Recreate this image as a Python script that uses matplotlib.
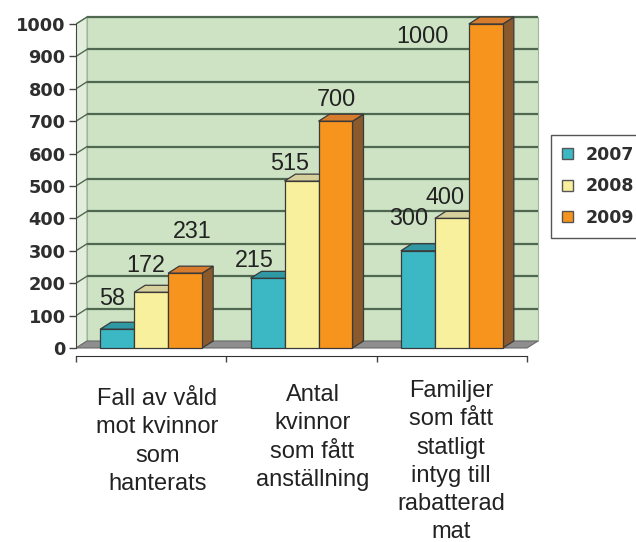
import matplotlib
matplotlib.use("Agg")
import matplotlib.pyplot as plt
from matplotlib.patches import Polygon, Patch

# ---------------- data ----------------
categories = [
    "Fall av våld\nmot kvinnor\nsom\nhanterats",
    "Antal\nkvinnor\nsom fått\nanställning",
    "Familjer\nsom fått\nstatligt\nintyg till\nrabatterad\nmat",
]
years = ["2007", "2008", "2009"]
v2007 = [58, 215, 300]
v2008 = [172, 515, 400]
v2009 = [231, 700, 1000]
yticks = list(range(0, 1001, 100))

# ---------------- styles / layout ----------------
series = [v2007, v2008, v2009]
front_col = ["#3cb8c5", "#f8f09c", "#f7941e"]
top_col = ["#2f98a3", "#d6d09c", "#d77c2c"]
side_col = ["#247a84", "#b9b27c", "#8a5a2c"]
edge = "#3a3a3a"
wall_col = "#cde3c4"
sidewall_col = "#e2eedc"
floor_col = "#8e8e8e"
grid_col = "#50684f"

# label offsets in pixels (x, baseline y) relative to bar front-top centre
lab_off = [
    [(-5, 24), (-13, 11), (-9, 26)],
    [(-5, 20), (-12, 11), (-7, 14)],
    [(7, 35), (1, 15), (-63, -19)],
]
# category label: x offset and first-baseline offset (pixels) from floor centre
cat_off = [(6, -57), (11, -53), (-1, -49)]
line_step = 28.3

W, H = 636, 542
fig = plt.figure(figsize=(W / 100, H / 100), dpi=100)

x0_px, x3_px = 76, 527
y0_px, y1000_px = 348, 24
axl, axr, axt, axb = 76, 560, 8, 356
ppx = (x3_px - x0_px) / 3.0
ppy = (y0_px - y1000_px) / 1000.0

ax = fig.add_axes([axl / W, 1 - axb / H, (axr - axl) / W, (axb - axt) / H])
ax.set_xlim(0, (axr - x0_px) / ppx)
ax.set_ylim(-(axb - y0_px) / ppy, (y0_px - axt) / ppy)
ax.patch.set_visible(False)

dx = 11 / ppx
dy = 7 / ppy
ncat = len(categories)
ymax = yticks[-1]

# walls and floor
ax.add_patch(Polygon([(dx, dy), (ncat + dx, dy), (ncat + dx, ymax + dy), (dx, ymax + dy)],
                     closed=True, facecolor=wall_col, edgecolor="#9fb59a", lw=0.8, zorder=1))
ax.add_patch(Polygon([(0, 0), (dx, dy), (dx, ymax + dy), (0, ymax)],
                     closed=True, facecolor=sidewall_col, edgecolor="#9fb59a", lw=0.8, zorder=1))
ax.add_patch(Polygon([(0, 0), (ncat, 0), (ncat + dx, dy), (dx, dy)],
                     closed=True, facecolor=floor_col, edgecolor="#6a6a6a", lw=0.8, zorder=2))
for t in yticks[1:]:
    ax.plot([dx, ncat + dx], [t + dy, t + dy], color=grid_col, lw=1.6, zorder=3,
            solid_capstyle="butt")
    ax.plot([0, dx], [t, t + dy], color=grid_col, lw=1.0, zorder=3)

# bars
bw = 34 / ppx
z = 10
for i in range(ncat):
    for j, vals in enumerate(series):
        v = vals[i]
        xl = i + 0.5 - 1.5 * bw + j * bw
        xr = xl + bw
        ax.add_patch(Polygon([(xr, 0), (xr + dx, dy), (xr + dx, v + dy), (xr, v)], closed=True,
                             facecolor=side_col[j], edgecolor=edge, lw=0.9, zorder=z))
        ax.add_patch(Polygon([(xl, v), (xr, v), (xr + dx, v + dy), (xl + dx, v + dy)], closed=True,
                             facecolor=top_col[j], edgecolor=edge, lw=0.9, zorder=z + 1))
        ax.add_patch(Polygon([(xl, 0), (xr, 0), (xr, v), (xl, v)], closed=True,
                             facecolor=front_col[j], edgecolor=edge, lw=0.9, zorder=z + 2))
        ox, oy = lab_off[j][i]
        ax.annotate(str(v), xy=((xl + xr) / 2, v), xytext=(ox, oy), textcoords="offset pixels",
                    ha="center", va="baseline", fontsize=16.8, family="Liberation Sans",
                    color="#222222", zorder=50)
        z += 3

# category labels (one text per line, fixed line pitch)
for i, lab in enumerate(categories):
    ox, oy = cat_off[i]
    for k, line in enumerate(lab.split("\n")):
        ax.annotate(line, xy=(i + 0.5, 0), xytext=(ox, oy - k * line_step),
                    textcoords="offset pixels", ha="center", va="baseline", fontsize=17,
                    family="Liberation Sans", color="#222222", annotation_clip=False)

# axes
for s in ["top", "right"]:
    ax.spines[s].set_visible(False)
ax.spines["left"].set_bounds(0, ymax)
ax.spines["bottom"].set_bounds(0, ncat)
ax.spines["left"].set_color("#444444")
ax.spines["bottom"].set_color("#333333")
ax.spines["left"].set_zorder(60)
ax.spines["bottom"].set_zorder(60)
ax.set_yticks(yticks)
ax.set_yticklabels([str(t) for t in yticks])
ax.set_xticks(range(ncat + 1))
ax.set_xticklabels([])
ax.tick_params(axis="y", length=5, width=1, color="#444444", pad=2.5, labelcolor="#2e2e2e")
ax.tick_params(axis="x", length=4, width=1, color="#444444")
for tl in ax.get_yticklabels():
    tl.set_fontfamily("DejaVu Sans")
    tl.set_fontweight("bold")
    tl.set_fontsize(12.8)

handles = [Patch(facecolor=front_col[j], edgecolor="#555555") for j in range(len(years))]
leg = fig.legend(handles, years, loc="upper left", bbox_to_anchor=(551 / W, 1 - 135 / H),
                 prop=dict(family="DejaVu Sans", weight="bold", size=12.5),
                 frameon=True, fancybox=False, edgecolor="#555555", framealpha=1,
                 handlelength=0.62, handleheight=0.62, handletextpad=0.75,
                 labelspacing=0.78, borderpad=0.62, borderaxespad=0)
leg.get_frame().set_linewidth(1.0)
for t in leg.get_texts():
    t.set_color("#2e2e2e")

fig.savefig("out.png", dpi=100)
